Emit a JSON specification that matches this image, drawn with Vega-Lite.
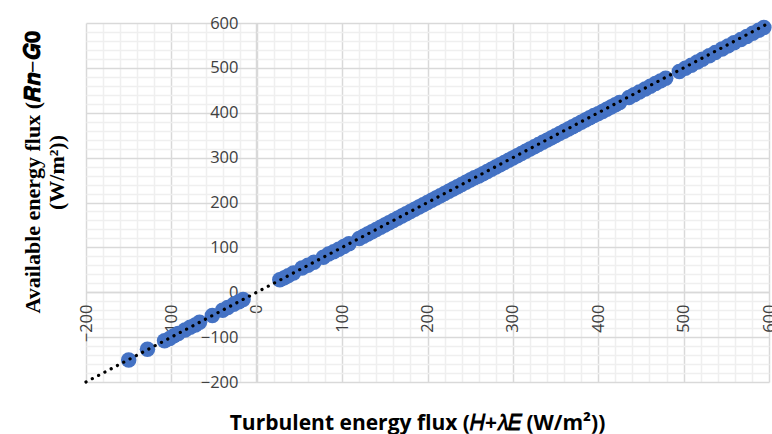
{
  "$schema": "https://vega.github.io/schema/vega-lite/v6.json",
  "width": 683,
  "height": 359,
  "autosize": {"type": "none"},
  "padding": {"left": 86, "top": 23, "right": 3, "bottom": 52},
  "background": "white",
  "config": {"view": {"stroke": null}},
  "resolve": {"axis": {"x": "independent", "y": "independent"}},
  "datasets": {
    "pts": [
      {"x": -150, "y": -151}, {"x": -128, "y": -127}, {"x": -108, "y": -108}, {"x": -102, "y": -103},
      {"x": -97, "y": -97}, {"x": -92, "y": -92}, {"x": -84, "y": -84}, {"x": -78, "y": -78},
      {"x": -72, "y": -73}, {"x": -67, "y": -67}, {"x": -52, "y": -52}, {"x": -40, "y": -40},
      {"x": -34, "y": -34}, {"x": -27, "y": -27}, {"x": -21, "y": -21}, {"x": -16, "y": -16},
      {"x": 27, "y": 28}, {"x": 32, "y": 32}, {"x": 37, "y": 37}, {"x": 43, "y": 43},
      {"x": 53, "y": 54}, {"x": 60, "y": 60}, {"x": 67, "y": 67},
      {"x": 78, "y": 78}, {"x": 84, "y": 85}, {"x": 90, "y": 90}, {"x": 96, "y": 96}, {"x": 102, "y": 102}, {"x": 108, "y": 108},
      {"x": 120, "y": 120}, {"x": 125, "y": 125}, {"x": 130, "y": 130}, {"x": 135, "y": 135}, {"x": 140, "y": 140},
      {"x": 145, "y": 145}, {"x": 150, "y": 150}, {"x": 155, "y": 155}, {"x": 160, "y": 160}, {"x": 165, "y": 165},
      {"x": 170, "y": 170}, {"x": 175, "y": 175}, {"x": 180, "y": 180}, {"x": 185, "y": 185}, {"x": 190, "y": 190},
      {"x": 195, "y": 195}, {"x": 200, "y": 200}, {"x": 205, "y": 205}, {"x": 210, "y": 210}, {"x": 215, "y": 215},
      {"x": 220, "y": 220}, {"x": 225, "y": 225}, {"x": 230, "y": 230}, {"x": 235, "y": 235}, {"x": 240, "y": 240},
      {"x": 245, "y": 245}, {"x": 250, "y": 250}, {"x": 255, "y": 255}, {"x": 260, "y": 259}, {"x": 265, "y": 264},
      {"x": 270, "y": 269}, {"x": 275, "y": 274}, {"x": 280, "y": 279}, {"x": 285, "y": 284}, {"x": 290, "y": 289},
      {"x": 295, "y": 294}, {"x": 300, "y": 299}, {"x": 305, "y": 304}, {"x": 310, "y": 309}, {"x": 315, "y": 314},
      {"x": 320, "y": 319}, {"x": 325, "y": 324}, {"x": 330, "y": 329}, {"x": 335, "y": 334}, {"x": 340, "y": 339},
      {"x": 345, "y": 344}, {"x": 350, "y": 349}, {"x": 355, "y": 354}, {"x": 360, "y": 359}, {"x": 365, "y": 364},
      {"x": 370, "y": 369}, {"x": 375, "y": 374}, {"x": 380, "y": 379}, {"x": 385, "y": 384}, {"x": 390, "y": 389},
      {"x": 395, "y": 394}, {"x": 400, "y": 398}, {"x": 405, "y": 403}, {"x": 410, "y": 408}, {"x": 415, "y": 413},
      {"x": 420, "y": 418}, {"x": 425, "y": 423}, {"x": 436, "y": 434}, {"x": 442, "y": 440}, {"x": 448, "y": 446},
      {"x": 455, "y": 453}, {"x": 461, "y": 459}, {"x": 467, "y": 465}, {"x": 473, "y": 471}, {"x": 479, "y": 477},
      {"x": 495, "y": 492}, {"x": 502, "y": 499}, {"x": 509, "y": 506}, {"x": 516, "y": 513}, {"x": 522, "y": 519},
      {"x": 530, "y": 527}, {"x": 537, "y": 534}, {"x": 545, "y": 542}, {"x": 552, "y": 549}, {"x": 559, "y": 556},
      {"x": 567, "y": 563}, {"x": 574, "y": 570}, {"x": 581, "y": 577}, {"x": 588, "y": 584}, {"x": 594, "y": 590}
    ],
    "trend": [{"x": -200, "y": -200}, {"x": 600, "y": 600}]
  },
  "layer": [
    {
      "data": {"name": "pts"},
      "mark": {"type": "point", "filled": true, "shape": "circle", "size": 240, "color": "#4472C4", "opacity": 1},
      "encoding": {
        "x": {
          "field": "x", "type": "quantitative",
          "scale": {"domain": [-200, 600], "nice": false, "zero": false},
          "axis": {
            "orient": "top",
            "values": [-180,-160,-140,-120,-80,-60,-40,-20,20,40,60,80,120,140,160,180,220,240,260,280,320,340,360,380,420,440,460,480,520,540,560,580],
            "labels": false, "ticks": false, "domain": false, "title": null,
            "grid": true, "gridColor": "#efefef", "gridWidth": 1.5
          }
        },
        "y": {
          "field": "y", "type": "quantitative",
          "scale": {"domain": [-200, 600], "nice": false, "zero": false},
          "axis": {
            "orient": "right",
            "values": [-180,-160,-140,-120,-80,-60,-40,-20,20,40,60,80,120,140,160,180,220,240,260,280,320,340,360,380,420,440,460,480,520,540,560,580],
            "labels": false, "ticks": false, "domain": false, "title": null,
            "grid": true, "gridColor": "#efefef", "gridWidth": 1.5
          }
        }
      }
    },
    {
      "data": {"name": "trend"},
      "mark": {"type": "line", "color": "#000000", "strokeWidth": 3.2, "strokeDash": [0.1, 7], "strokeCap": "round"},
      "encoding": {
        "x": {
          "field": "x", "type": "quantitative",
          "axis": {
            "orient": "bottom",
            "values": [-200, -100, 0, 100, 200, 300, 400, 500, 600],
            "offset": -90,
            "labelAngle": -90,
            "labelFont": "Open Sans", "labelFontSize": 16.5, "labelColor": "#404040",
            "labelPadding": 12,
            "labelOverlap": false,
            "labelFlush": false,
            "ticks": false,
            "domainColor": "#d9d9d9", "domainWidth": 1.5,
            "grid": true, "gridColor": "#d9d9d9", "gridWidth": 1.5,
            "title": "Turbulent energy flux (𝐻+𝜆𝐸 (W/m²))",
            "titleFont": "Open Sans", "titleFontSize": 21, "titleFontWeight": "bold", "titleColor": "#000000",
            "titleX": 331, "titleY": 131, "titleBaseline": "middle", "titleAlign": "center"
          }
        },
        "y": {
          "field": "y", "type": "quantitative",
          "axis": {
            "orient": "left",
            "values": [-200, -100, 0, 100, 200, 300, 400, 500, 600],
            "offset": -170,
            "labelFont": "Open Sans", "labelFontSize": 16.5, "labelColor": "#404040",
            "labelPadding": 18,
            "labelOverlap": false,
            "labelFlush": false,
            "ticks": false,
            "domainColor": "#d9d9d9", "domainWidth": 1.5,
            "grid": true, "gridColor": "#d9d9d9", "gridWidth": 1.5,
            "title": ["Available energy  flux (𝑹𝒏−𝑮𝟎", "(W/m²))"],
            "titleFont": "Liberation Serif", "titleFontSize": 22, "titleFontWeight": "bold", "titleColor": "#000000",
            "titleAngle": -90,
            "titleX": -224, "titleY": 149, "titleAlign": "center", "titleBaseline": "middle", "titleLineHeight": 24
          }
        }
      }
    }
  ]
}
